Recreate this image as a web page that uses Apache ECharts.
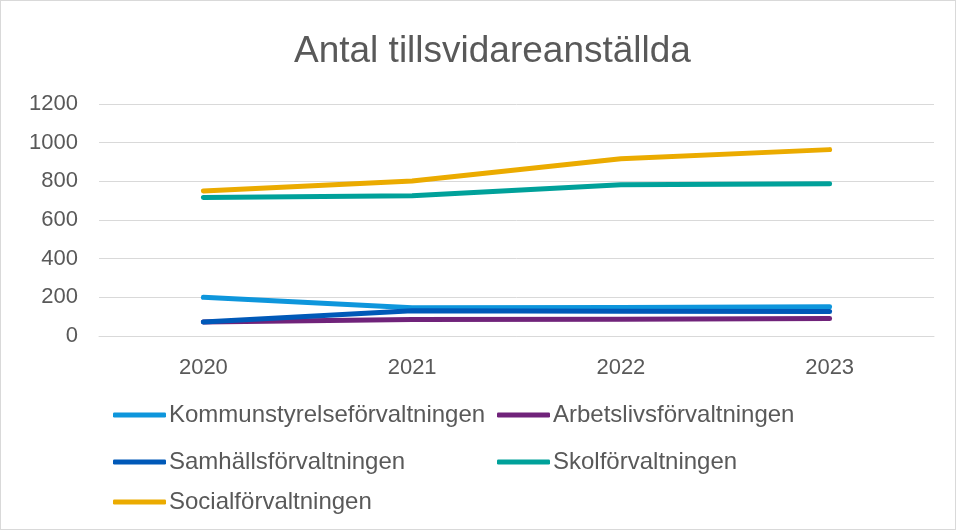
<!DOCTYPE html>
<html><head><meta charset="utf-8">
<script src="https://cdn.jsdelivr.net/npm/echarts@6/dist/echarts.min.js"></script>
<style>html,body{margin:0;padding:0;background:#fff}#c{width:954px;height:528px;border:1px solid #d9d9d9}</style>
</head><body><div id="c"></div>
<script>
const title = 'Antal tillsvidareanställda';
const categories = ['2020', '2021', '2022', '2023'];
const yTicks = [0, 200, 400, 600, 800, 1000, 1200];
const names = ['Kommunstyrelseförvaltningen', 'Arbetslivsförvaltningen', 'Samhällsförvaltningen', 'Skolförvaltningen', 'Socialförvaltningen'];
const kommun = [200, 146, 148, 151];
const arbets = [72, 85, 87, 90];
const samhall = [72, 130, 128, 127];
const skol = [716, 726, 782, 787];
const social = [750, 802, 917, 964];
const values = [kommun, arbets, samhall, skol, social];
const colors = ['#0e96dc', '#70237a', '#0059b8', '#00a19a', '#ebab00'];
const legendPos = [[112, 402], [496, 402], [112, 449], [496, 449], [112, 489]];

const chart = echarts.init(document.getElementById('c'), null, {renderer: 'canvas'});
const font = 'Liberation Sans, Arial, sans-serif';
chart.setOption({
  animation: false,
  title: {text: title, left: 288, top: 27, textStyle: {fontFamily: font, fontSize: 37, fontWeight: 'normal', color: '#595959'}},
  grid: {left: 98, right: 21, top: 103, bottom: 193, containLabel: false},
  xAxis: {type: 'category', data: categories, boundaryGap: true,
    axisLine: {show: true, lineStyle: {color: '#d9d9d9', width: 1}}, axisTick: {show: false},
    axisLabel: {fontFamily: font, fontSize: 22, color: '#595959', margin: 21}},
  yAxis: {type: 'value', min: yTicks[0], max: yTicks[yTicks.length - 1], interval: 200,
    axisLine: {show: false}, axisTick: {show: false},
    splitLine: {lineStyle: {color: '#d9d9d9', width: 1}},
    axisLabel: {fontFamily: font, fontSize: 22, color: '#595959', margin: 21, formatter: v => String(v)}},
  legend: names.map((n, i) => ({data: [n], left: legendPos[i][0], top: legendPos[i][1], icon: 'roundRect',
    itemWidth: 53, itemHeight: 5, itemGap: 4, padding: 0,
    textStyle: {fontFamily: font, fontSize: 24, color: '#595959', padding: [0, 0, 0, -2]}})),
  series: names.map((n, i) => ({name: n, type: 'line', data: values[i], symbol: 'none',
    lineStyle: {width: 5, color: colors[i], cap: 'round', join: 'round'}, itemStyle: {color: colors[i]}}))
});
</script></body></html>
